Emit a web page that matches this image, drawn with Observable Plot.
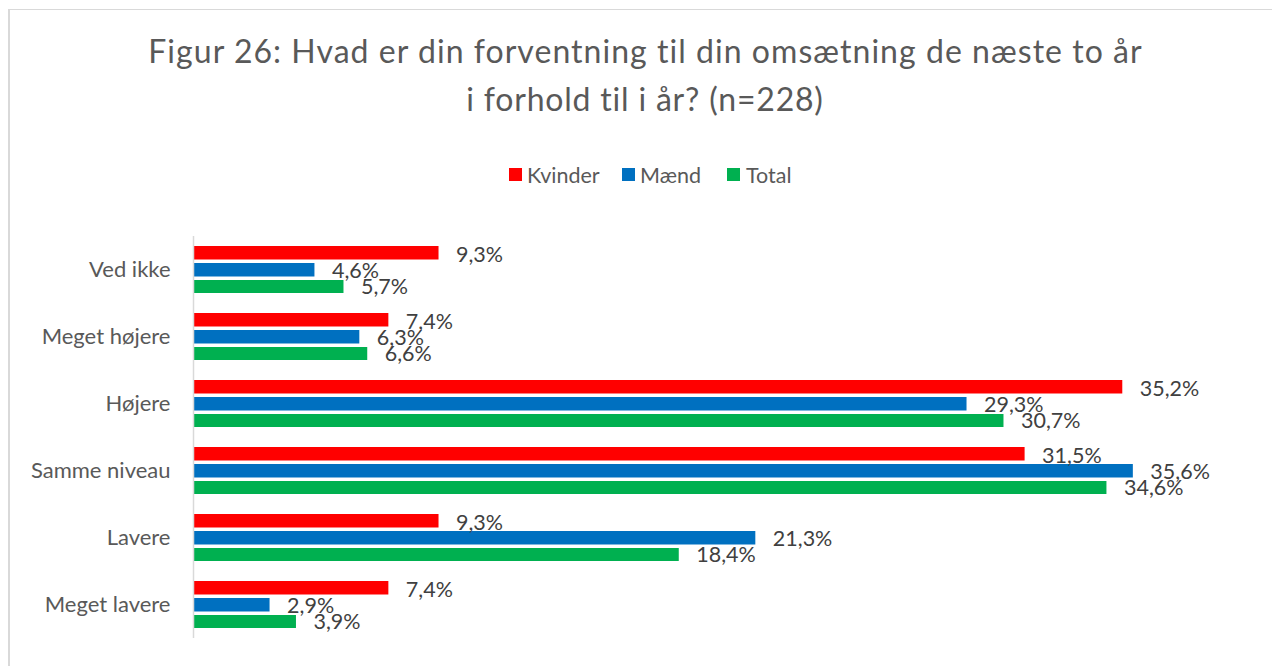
<!DOCTYPE html>
<html>
<head>
<meta charset="utf-8">
<script src="https://cdn.jsdelivr.net/npm/d3@7"></script>
<script src="https://cdn.jsdelivr.net/npm/@observablehq/plot@0.6"></script>
<style>
  html, body { margin: 0; padding: 0; background: #fff; width: 1272px; height: 666px; overflow: hidden; font-family: Lato, "Open Sans", sans-serif; }
  #frame { position: absolute; left: 8px; top: 9px; width: 1400px; height: 800px; border-left: 2px solid #d9d9d9; border-top: 1.5px solid #d9d9d9; box-sizing: border-box; }
  .title { position: absolute; transform: translateX(-50%); white-space: nowrap; color: #595959; font-size: 32px; line-height: 1; }
  .sw { position: absolute; width: 13px; height: 13px; top: 168px; }
  .lt { position: absolute; top: 165px; font-size: 21.5px; line-height: 1; color: #595959; white-space: nowrap; }
  #chart { position: absolute; left: 0; top: 220px; }
</style>
</head>
<body>
<div id="frame"></div>
<div class="title" id="t1" style="left:645.5px; top:35px;">Figur 26: Hvad er din forventning til din omsætning de næste to år</div>
<div class="title" id="t2" style="left:645px; top:83px;">i forhold til i år? (n=228)</div>
<div id="legend"></div>
<div id="chart"></div>
<script>
const categories = ["Ved ikke", "Meget højere", "Højere", "Samme niveau", "Lavere", "Meget lavere"];
const seriesNames = ["Kvinder", "Mænd", "Total"];
const seriesColors = ["#FF0000", "#0070C0", "#00B050"];
const kvinder = [9.3, 7.4, 35.2, 31.5, 9.3, 7.4];
const maend   = [4.6, 6.3, 29.3, 35.6, 21.3, 2.9];
const total   = [5.7, 6.6, 30.7, 34.6, 18.4, 3.9];

const values = [kvinder, maend, total];
const rows = values.map(vals => categories.map((c, i) => ({cat: c, v: vals[i]})));
const fmt = v => v.toFixed(1).replace(".", ",") + "%";

// per-series layout within a 67px band
const insets = [[10, 43.5], [27, 26.5], [44, 10]];
const labelDy = [-15, 1.5, 17.5];

const marks = [];
rows.forEach((data, s) => {
  marks.push(Plot.barX(data, {x: "v", y: "cat", fill: seriesColors[s], insetTop: insets[s][0], insetBottom: insets[s][1]}));
});
rows.forEach((data, s) => {
  marks.push(Plot.text(data, {x: "v", y: "cat", text: d => fmt(d.v), dx: 17, dy: labelDy[s], textAnchor: "start", fontSize: 21.5, fill: "#404040"}));
});
marks.push(Plot.ruleX([0], {stroke: "#d9d9d9", strokeWidth: 1.5}));

const chart = Plot.plot({
  width: 1272,
  height: 430,
  marginTop: 16,
  marginBottom: 12,
  marginLeft: 193,
  marginRight: 23,
  style: {fontFamily: "Lato, 'Open Sans', sans-serif", fontSize: "22px", color: "#595959", background: "transparent", overflow: "visible"},
  x: {domain: [0, 40], axis: null},
  y: {domain: categories, padding: 0, tickSize: 0, tickPadding: 23, label: null},
  marks
});
document.getElementById("chart").appendChild(chart);

// legend (HTML, positioned like the reference)
const swX = [509, 622, 727];
const txX = [527, 640, 746];
seriesNames.forEach((n, i) => {
  const sw = document.createElement("div");
  sw.className = "sw";
  sw.style.left = swX[i] + "px";
  sw.style.background = seriesColors[i];
  document.body.appendChild(sw);
  const t = document.createElement("div");
  t.className = "lt";
  t.style.left = txX[i] + "px";
  t.textContent = n;
  document.body.appendChild(t);
});

// fit title lines to the reference widths with letter-spacing
function fit(id, target) {
  const el = document.getElementById(id);
  const w = el.getBoundingClientRect().width;
  const n = el.textContent.length;
  el.style.letterSpacing = ((target - w) / n) + "px";
}
fit("t1", 995);
fit("t2", 358);
</script>
</body>
</html>
